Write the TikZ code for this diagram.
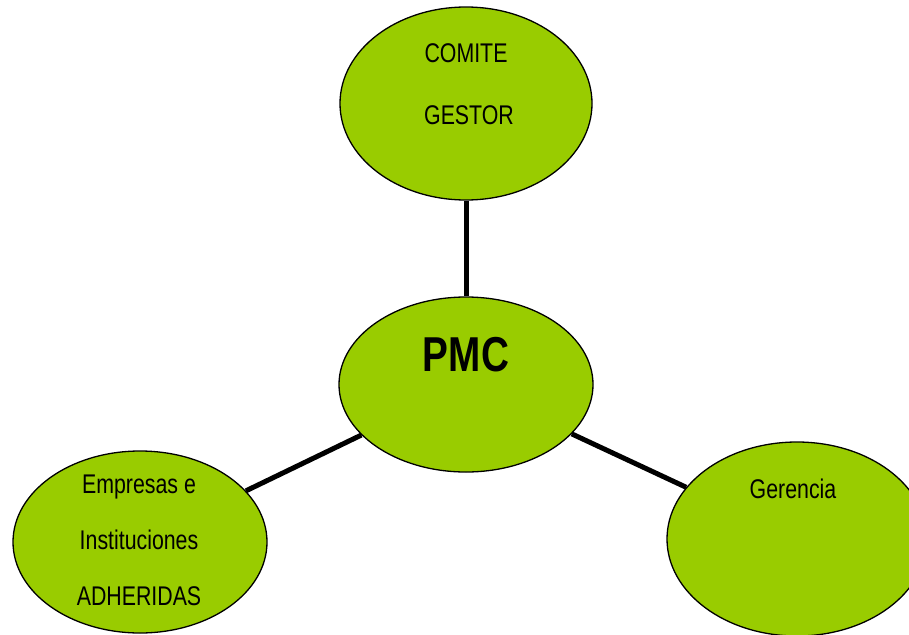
\documentclass[tikz,border=0pt]{standalone}
\usepackage{fontspec}
\setmainfont{Liberation Sans}[FakeStretch=0.79]
\usetikzlibrary{shapes.geometric}
\definecolor{leaf}{HTML}{99CC00}
\tikzset{
  blob/.style={ellipse, draw=black, line width=1.3pt, fill=leaf, inner sep=0pt},
  link/.style={line width=5pt, draw=black},
  lbl/.style={inner sep=0pt, font=\fontsize{27}{29}\selectfont, text=black},
  big/.style={inner sep=0pt, font=\fontsize{49}{51}\selectfont\bfseries, text=black}
}
\begin{document}
\begin{tikzpicture}[x=1pt,y=-1pt]
\useasboundingbox (0,0) rectangle (909,634);
\clip (0,0) rectangle (909,634);
\node[blob, minimum width=252pt, minimum height=193pt] (top) at (466,103.5) {};
\node[blob, minimum width=254pt, minimum height=175pt] (pmc) at (466,384.5) {};
\node[blob, minimum width=254pt, minimum height=182pt] (left) at (140,542) {};
\node[blob, minimum width=260pt, minimum height=194pt] (right) at (797,539) {};
\draw[link] (top) -- (pmc);
\draw[link] (pmc) -- (left);
\draw[link] (pmc) -- (right);
\node[lbl] (t1) at (466,53) {COMITE};
\node[lbl] (t2) at (469,115) {GESTOR};
\node[big] (t3) at (466,355) {PMC};
\node[lbl] (t4) at (139,487) {Empresas e};
\node[lbl] (t5) at (139,540) {Instituciones};
\node[lbl] (t6) at (139,596) {ADHERIDAS};
\node[lbl] (t7) at (793,489) {Gerencia};
\end{tikzpicture}
\end{document}
